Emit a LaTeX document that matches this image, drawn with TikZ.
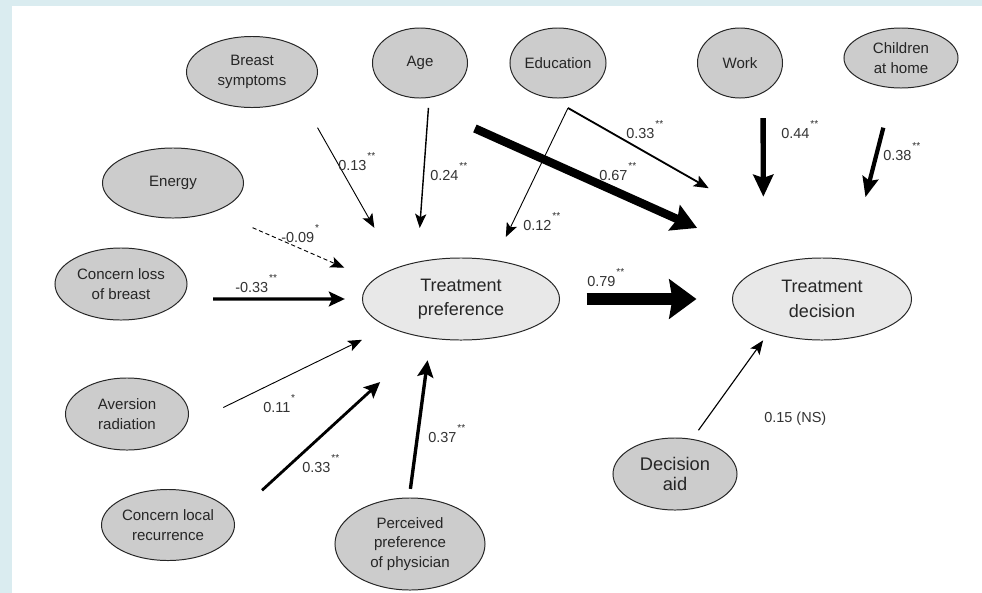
\documentclass[tikz,border=0pt]{standalone}
\usepackage{fontspec}
\setmainfont{Liberation Sans}
\usetikzlibrary{arrows.meta,shapes.geometric}
\definecolor{framebg}{RGB}{218,236,240}
\definecolor{factorfill}{RGB}{204,204,204}
\definecolor{outcomefill}{RGB}{232,232,232}
\newcommand{\signif}[1]{\kern0.6pt\raisebox{0.35em}{\textsuperscript{#1}}}

\begin{document}
\begin{tikzpicture}[
  x=0.025cm, y=-0.025cm,
  factor/.style={ellipse, draw=black!85, line width=0.7pt, fill=factorfill, inner sep=0pt, outer sep=0pt,
    align=center, text=black!85, font=\fontsize{10.7}{14}\selectfont},
  outcome/.style={factor, fill=outcomefill, font=\fontsize{12.8}{17.5}\selectfont},
  coef/.style={inner sep=0pt, anchor=base west, text=black!80, font=\fontsize{10.3}{12}\selectfont},
  effect/.style 2 args={draw=black, -{Stealth[length=#1, width=#2, inset=0.08cm]}},
  thinpath/.style={effect={0.35cm}{0.28cm}, line width=0.65pt}
]

% frame
\fill[framebg] (0,0) rectangle (982,593);
\fill[white] (12,6) rectangle (982,593);
\useasboundingbox (0,0) rectangle (982,593);

% predictors
\node[factor, minimum width=3.275cm, minimum height=1.775cm] (bs) at (252,72) {Breast\\symptoms};
\node[factor, minimum width=2.375cm, minimum height=1.75cm] (age) at (420,63) {Age};
\node[factor, minimum width=2.4cm, minimum height=1.75cm] (edu) at (558,63) {Education};
\node[factor, minimum width=2.125cm, minimum height=1.75cm] (work) at (740,63) {Work};
\node[factor, minimum width=2.85cm, minimum height=1.5cm] (child) at (901,58) {Children\\at home};
\node[factor, minimum width=3.525cm, minimum height=1.75cm] (en) at (173,183) {Energy};
\node[factor, minimum width=3.3cm, minimum height=1.8cm] (cl) at (121,284) {Concern loss\\of breast};
\node[factor, minimum width=3.075cm, minimum height=1.8cm] (ar) at (127,414) {Aversion\\radiation};
\node[factor, minimum width=3.325cm, minimum height=1.775cm] (clr) at (168,525) {Concern local\\recurrence};
\node[factor, minimum width=3.75cm, minimum height=2.3cm] (pp) at (410,544) {Perceived\\preference\\of physician};
\node[factor, minimum width=3.1cm, minimum height=1.8cm, font=\fontsize{13}{14.5}\selectfont] (da) at (675,474) {Decision\\aid};

% outcomes
\node[outcome, minimum width=4.925cm, minimum height=2.05cm] (tp) at (461,299) {Treatment\\preference};
\node[outcome, minimum width=4.475cm, minimum height=2.05cm] (td) at (822,299) {Treatment\\decision};

\coordinate (edufork) at ([shift={(10,10)}]edu.south);

% paths to treatment preference
\draw[thinpath, shorten <=0.9cm, shorten >=1.15cm] (bs.-27.3) -- (tp.154.9);
\draw[thinpath, line width=1pt, shorten <=0.265cm, shorten >=0.86cm] (age.-75.7) -- (tp.140.7);
\draw[thinpath, shorten >=0.65cm] (edufork) -- (tp.49.9);
\draw[thinpath, densely dashed, shorten <=1.03cm, shorten >=0.79cm] (en.-34.8) -- (tp.168.2);
\draw[effect={0.4cm}{0.37cm}, line width=2.2pt, shorten <=0.8cm, shorten >=0.44cm] (cl.-14) -- (tp.180);
\draw[thinpath, shorten <=1.07cm, shorten >=0.74cm] (ar.-12.5) -- (tp.201.5);
\draw[effect={0.4cm}{0.37cm}, line width=2pt, shorten <=0.99cm, shorten >=1.64cm] (clr.7.2) -- (tp.-130.1);
\draw[effect={0.42cm}{0.4cm}, line width=2.4pt, shorten <=0.23cm, shorten >=0.56cm] (pp.91.5) -- (tp.-128.7);

% paths to treatment decision
\draw[effect={0.37cm}{0.3cm}, line width=1.3pt, shorten >=3.53cm] (edufork) -- (td.77.8);
\draw[effect={0.62cm}{0.68cm}, line width=6pt, shorten <=2.1cm, shorten >=2.18cm] (age.-125) -- (td.142.1);
\draw[effect={0.55cm}{0.5cm}, line width=3.8pt, shorten <=0.64cm, shorten >=1.78cm] (work.-52) -- (td.152.4);
\draw[effect={0.5cm}{0.4cm}, line width=3pt, shorten <=1.03cm, shorten >=1.62cm] (child.-104.2) -- (td.55.8);
\draw[effect={0.68cm}{0.98cm}, line width=9pt, shorten <=0.675cm, shorten >=0.9cm] (tp.0) -- (td.180);
\draw[thinpath, line width=0.8pt, shorten <=0.28cm, shorten >=0.255cm] (da.64.6) -- (td.-148.9);

% coefficients
\node[coef] (c-bs) at (338,170) {0.13\signif{**}};
\node[coef] (c-age) at (430,180) {0.24\signif{**}};
\node[coef] (c-edutp) at (523,230) {0.12\signif{**}};
\node[coef] (c-edutd) at (626,138) {0.33\signif{**}};
\node[coef] (c-agetd) at (599,180) {0.67\signif{**}};
\node[coef] (c-work) at (781,138) {0.44\signif{**}};
\node[coef] (c-child) at (883,160) {0.38\signif{**}};
\node[coef] (c-en) at (281,242) {-0.09\signif{*}};
\node[coef] (c-cl) at (235,292) {-0.33\signif{**}};
\node[coef] (c-ar) at (263,412) {0.11\signif{*}};
\node[coef] (c-clr) at (302,472) {0.33\signif{**}};
\node[coef] (c-pp) at (428,442) {0.37\signif{**}};
\node[coef] (c-tp) at (587,286) {0.79\signif{**}};
\node[coef] (c-da) at (764,422) {0.15 (NS)};

\end{tikzpicture}
\end{document}
